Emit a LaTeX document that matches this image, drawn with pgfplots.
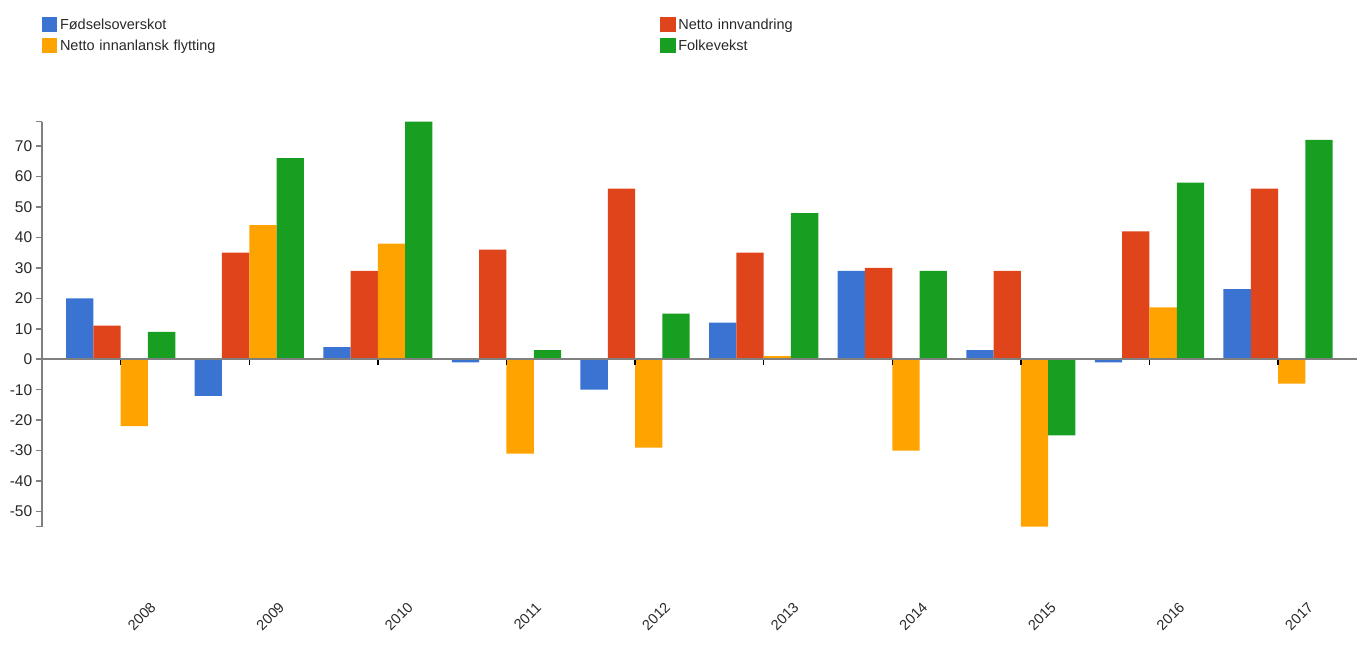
\documentclass[border=0pt]{standalone}
\usepackage{fontspec}
\setmainfont{Liberation Sans}
\usepackage{pgfplots}
\usepackage{pgfplotstable}
\pgfplotsset{compat=1.18}

\definecolor{cBlue}{RGB}{59,115,211}
\definecolor{cRed}{RGB}{224,68,26}
\definecolor{cOrange}{RGB}{255,163,0}
\definecolor{cGreen}{RGB}{24,159,34}
\definecolor{axisGrey}{RGB}{128,128,128}
\definecolor{textDark}{RGB}{40,40,40}

% 1 px of the reference = 1 pt here
\pgfplotstableread{
x fod inn flytt folk
0  20  11 -22   9
1 -12  35  44  66
2   4  29  38  78
3  -1  36 -31   3
4 -10  56 -29  15
5  12  35   1  48
6  29  30 -30  29
7   3  29 -55 -25
8  -1  42  17  58
9  23  56  -8  72
}\datatable

\pgfplotsset{
  sqlegend/.style={legend image code/.code={\fill[##1, draw=none] (0pt,-6.5pt) rectangle (15.6pt,8.5pt);}},
}

\begin{document}
\begin{tikzpicture}
\begin{axis}[
    at={(41.7pt,137.3pt)}, anchor=south west,
    scale only axis, width=1315.3pt, height=405pt,
    enlargelimits=false, clip=false, axis on top,
    xmin=-0.614, xmax=9.614,
    ymin=-55, ymax=78,
    ybar=0pt, bar width=27.3pt,
    every axis plot post/.append style={sqlegend},
    axis y line*=left,
    axis x line*=middle,
    tick align=outside,
    major tick length=6pt,
    y axis line style={axisGrey, line width=2pt},
    x axis line style={axisGrey, line width=2pt},
    ytick={-50,-40,...,70},
    extra y ticks={-55,78}, extra y tick labels={},
    extra y tick style={major tick length=6pt},
    y tick style={axisGrey, line width=1.5pt},
    x tick style={black, line width=1.5pt},
    xtick={0,...,9},
    xticklabels={2008,2009,2010,2011,2012,2013,2014,2015,2016,2017},
    /pgf/number format/assume math mode=true,
    yticklabel style={font=\fontsize{15.5}{18}\selectfont, text=textDark},
    xticklabel style={font=\fontsize{14.5}{17}\selectfont, text=textDark,
        xshift=21pt, yshift=-251pt, rotate=45, anchor=center},
    legend columns=2,
    legend cell align=left,
    legend style={draw=none, fill=none, inner sep=0pt, outer sep=0pt,
        at={(axis description cs:0,1.258)}, anchor=north west,
        font=\fontsize{14.5}{17}\selectfont, text=textDark,
        row sep=5.5pt,
        nodes={inner sep=0pt, text height=11pt, text depth=3.5pt, text width=600pt},
        /tikz/every odd column/.append style={column sep=2.7pt},
        /tikz/every even column/.append style={column sep=0pt}},
]
\addplot[fill=cBlue, draw=none] table[x=x, y=fod] {\datatable};
\addlegendentry{Fødselsoverskot}
\addplot[fill=cRed, draw=none] table[x=x, y=inn] {\datatable};
\addlegendentry{Netto innvandring}
\addplot[fill=cOrange, draw=none] table[x=x, y=flytt] {\datatable};
\addlegendentry{Netto innanlansk flytting}
\addplot[fill=cGreen, draw=none] table[x=x, y=folk] {\datatable};
\addlegendentry{Folkevekst}
\end{axis}
\pgfresetboundingbox
\useasboundingbox (0,0) rectangle (1357pt,664pt);
\end{tikzpicture}
\end{document}
